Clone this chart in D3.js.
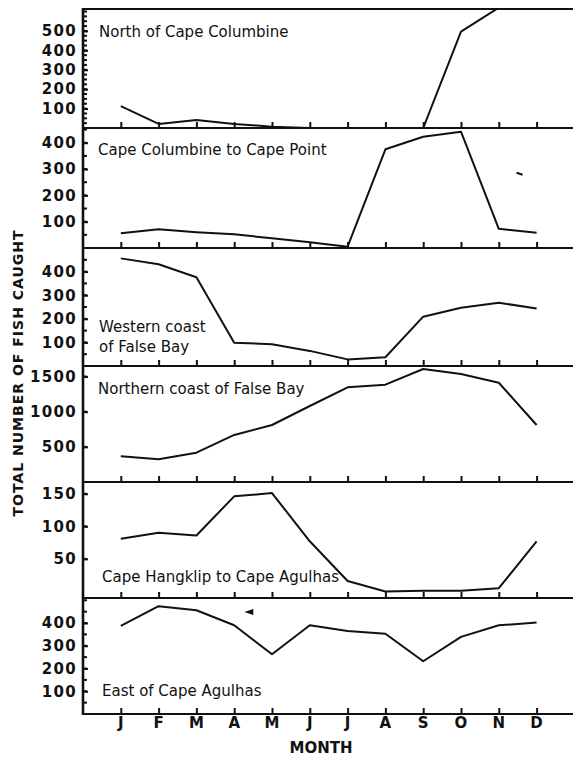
<!DOCTYPE html>
<html>
<head>
<meta charset="utf-8">
<script src="https://cdn.jsdelivr.net/npm/d3@7"></script>
<style>
  html, body { margin: 0; padding: 0; background: #fff; }
  svg { display: block; }
  .num { font-family: "DejaVu Sans", sans-serif; font-weight: bold; font-size: 15px; letter-spacing: 1.3px; fill: #111; }
  .month { font-family: "DejaVu Sans", sans-serif; font-weight: bold; font-size: 15px; fill: #111; }
  .title { font-family: "DejaVu Sans", sans-serif; font-size: 15px; fill: #111; }
  .axis-title { font-family: "DejaVu Sans", sans-serif; font-weight: bold; font-size: 14px; letter-spacing: 1px; fill: #111; }
</style>
</head>
<body>
<svg id="chart" width="573" height="757"></svg>
<script>
// Monthly catch per coastal region (number of fish)
const months = ["J", "F", "M", "A", "M", "J", "J", "A", "S", "O", "N", "D"];

const northOfCapeColumbine   = [113, 21, 41, 21, 7, 0, 0, 0, 0, 496, 620, 640];
const capeColumbineToPoint   = [56, 71, 60, 52, 37, 22, 5, 375, 423, 442, 73, 58];
const westernFalseBay        = [456, 431, 376, 99, 92, 64, 28, 37, 209, 247, 268, 244];
const northernFalseBay       = [366, 323, 417, 669, 811, 1081, 1347, 1384, 1607, 1536, 1412, 811];
const hangklipToAgulhas      = [81, 90, 86, 146, 151, 77, 16, 0, 1, 1, 5, 77];
const eastOfCapeAgulhas      = [387, 474, 456, 390, 263, 390, 365, 353, 232, 339, 390, 402];

const regionNames = [
  ["North of Cape Columbine"],
  ["Cape Columbine to Cape Point"],
  ["Western  coast", "of False Bay"],
  ["Northern  coast of False Bay"],
  ["Cape Hangklip to Cape Agulhas"],
  ["East of Cape Agulhas"]
];

// Tick labels per panel
const tickLabels = [
  [100, 200, 300, 400, 500],
  [100, 200, 300, 400],
  [100, 200, 300, 400],
  [500, 1000, 1500],
  [50, 100, 150],
  [100, 200, 300, 400]
];

const series = [northOfCapeColumbine, capeColumbineToPoint, westernFalseBay,
                northernFalseBay, hangklipToAgulhas, eastOfCapeAgulhas];

// Layout: panel edges and value domains
const panelEdges = [9, 128, 248, 366, 482, 598, 714];
const domains = [[0, 613], [0, 456], [0, 500], [0, 1650], [-10, 168], [0, 510]];
const minorStep = [25, 50, 50, 500, 50, 50];
const titlePos = [[99, 37], [98, 155], [99, 332], [98, 394], [102, 582], [102, 696]];

// small stray marks printed inside two panels: [panel, month position, value]
const strayArrow = [5, 3.4, 448];
const strayDash = [1, 10.55, 282];

const svg = d3.select("#chart");
const xLeft = 83, xRight = 574.4;
const x = d3.scaleLinear().domain([-1, 12]).range([xLeft, xRight]);

const line = d3.line().x((d, i) => x(i));
const yScales = [];

series.forEach((vals, p) => {
  const top = panelEdges[p], bottom = panelEdges[p + 1];
  const y = d3.scaleLinear().domain(domains[p]).range([bottom, top]);
  yScales.push(y);
  const g = svg.append("g");

  const clipId = "clip" + p;
  svg.append("clipPath").attr("id", clipId)
    .append("rect").attr("x", xLeft).attr("y", top).attr("width", xRight - xLeft).attr("height", bottom - top);

  // minor ticks on the left axis
  const minors = d3.range(minorStep[p], domains[p][1], minorStep[p]);
  g.selectAll("line.minor").data(minors).join("line")
    .attr("x1", xLeft).attr("x2", xLeft + 4)
    .attr("y1", d => y(d)).attr("y2", d => y(d))
    .attr("stroke", "#111").attr("stroke-width", 2);

  // labelled ticks
  const ax = g.append("g").attr("transform", `translate(${xLeft},0)`)
    .call(d3.axisLeft(y).tickValues(tickLabels[p]).tickFormat(d3.format("d"))
      .tickSizeInner(-5).tickSizeOuter(0).tickPadding(6));
  ax.select(".domain").remove();
  ax.selectAll(".tick line").attr("stroke", "#111").attr("stroke-width", 2);
  ax.selectAll(".tick text").attr("class", "num").attr("font-family", null).attr("font-size", null);

  // month ticks along the panel's bottom edge
  const bx = g.append("g").attr("transform", `translate(0,${bottom})`)
    .call(d3.axisBottom(x).tickValues(d3.range(12)).tickSizeInner(-6).tickSizeOuter(0).tickFormat(""));
  bx.select(".domain").remove();
  bx.selectAll(".tick line").attr("stroke", "#111").attr("stroke-width", 2);

  // panel frame lines
  g.append("line").attr("x1", xLeft).attr("x2", 573).attr("y1", bottom).attr("y2", bottom)
    .attr("stroke", "#111").attr("stroke-width", 2.2);
  if (p === 0) {
    g.append("line").attr("x1", xLeft).attr("x2", 573).attr("y1", top).attr("y2", top)
      .attr("stroke", "#111").attr("stroke-width", 2.2);
  }

  // data line
  g.append("path").datum(vals)
    .attr("clip-path", `url(#${clipId})`)
    .attr("d", line.y(d => y(d)))
    .attr("fill", "none").attr("stroke", "#111").attr("stroke-width", 2)
    .attr("stroke-linejoin", "round");

  // region name
  const t = g.append("text").attr("class", "title")
    .attr("x", titlePos[p][0]).attr("y", titlePos[p][1]);
  regionNames[p].forEach((s, k) => {
    t.append("tspan").attr("x", titlePos[p][0]).attr("dy", k === 0 ? 0 : 20).text(s);
  });
});

// stray marks
{
  const [p, m, v] = strayArrow;
  const cx = x(m), cy = yScales[p](v);
  svg.append("path")
    .attr("d", `M${cx - 5},${cy} L${cx + 4},${cy - 3} L${cx + 4},${cy + 3} Z`)
    .attr("fill", "#111");
}
{
  const [p, m, v] = strayDash;
  const cx = x(m), cy = yScales[p](v);
  svg.append("line").attr("x1", cx - 3).attr("x2", cx + 3).attr("y1", cy - 1).attr("y2", cy + 1)
    .attr("stroke", "#111").attr("stroke-width", 2);
}

// left vertical axis line
svg.append("line").attr("x1", xLeft).attr("x2", xLeft)
  .attr("y1", panelEdges[0] - 1).attr("y2", panelEdges[6] + 1)
  .attr("stroke", "#111").attr("stroke-width", 2.6);

// month labels
svg.append("g").selectAll("text").data(months).join("text")
  .attr("class", "month")
  .attr("x", (d, i) => x(i)).attr("y", 728)
  .attr("text-anchor", "middle").text(d => d);

svg.append("text").attr("class", "month")
  .attr("x", 321).attr("y", 753).attr("text-anchor", "middle").text("MONTH");

svg.append("text").attr("class", "axis-title")
  .attr("transform", "translate(23,373) rotate(-90)")
  .attr("text-anchor", "middle").text("TOTAL NUMBER OF FISH CAUGHT");
</script>
</body>
</html>
